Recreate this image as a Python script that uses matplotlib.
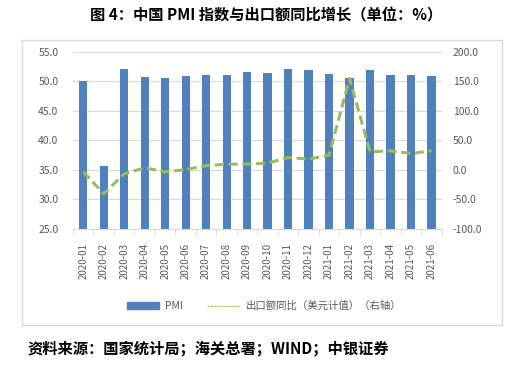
import numpy as np
import matplotlib.pyplot as plt
from matplotlib.patches import Rectangle
from matplotlib.lines import Line2D

plt.rcParams['font.family'] = ['Noto Sans CJK SC', 'DejaVu Sans']

months = ["2020-01", "2020-02", "2020-03", "2020-04", "2020-05", "2020-06",
          "2020-07", "2020-08", "2020-09", "2020-10", "2020-11", "2020-12",
          "2021-01", "2021-02", "2021-03", "2021-04", "2021-05", "2021-06"]
pmi = [50.0, 35.7, 52.0, 50.8, 50.6, 50.9, 51.1, 51.0, 51.5, 51.4, 52.1, 51.9,
       51.3, 50.6, 51.9, 51.1, 51.0, 50.9]
export_yoy = [-3.0, -40.5, -6.6, 3.5, -3.3, 0.5, 7.2, 9.5, 9.9, 11.4, 21.1, 18.1,
              24.9, 154.9, 30.6, 32.3, 27.9, 32.2]

bar_color = "#4F81BD"
line_color = "#9BBB59"
text_color = "#595959"
grid_color = "#D9D9D9"

fig = plt.figure(figsize=(5.24, 3.88), dpi=100)

# chart frame
fig.patches.append(Rectangle((22 / 524, 1 - 325 / 388), 480 / 524, 285 / 388,
                             transform=fig.transFigure, fill=False,
                             edgecolor=grid_color, linewidth=1))

ax = fig.add_axes([73 / 524, 1 - 229 / 388, 368.7 / 524, 177.3 / 388])
x = np.arange(len(months))
ax.bar(x, pmi, width=0.4, color=bar_color, zorder=2)
ax.set_ylim(25, 55)
ax.set_yticks(np.arange(25, 56, 5))
ax.set_yticklabels([f"{v:.1f}" for v in np.arange(25, 56, 5)])
ax.set_xlim(-0.5, len(months) - 0.5)
ax.set_xticks(x)
ax.set_xticklabels(months, rotation=90)
ax.set_xticks(np.arange(-0.5, len(months), 1), minor=True)
ax.tick_params(axis='x', which='major', length=0, pad=10, labelsize=7, labelcolor=text_color)
ax.tick_params(axis='x', which='minor', length=4, color=grid_color, direction='out')
ax.tick_params(axis='y', length=0, labelsize=7.5, labelcolor=text_color, pad=10.5)
ax.grid(axis='y', color=grid_color, linewidth=0.8, zorder=0)
for s in ["left", "right", "top"]:
    ax.spines[s].set_visible(False)
ax.spines["bottom"].set_color(grid_color)

ax2 = ax.twinx()
ax2.plot(x, export_yoy, color=line_color, linewidth=2.2, linestyle=(0, (3, 1.5)), zorder=3)
ax2.set_ylim(-100, 200)
ax2.set_yticks(np.arange(-100, 201, 50))
ax2.set_yticklabels([f"{v:.1f}" for v in np.arange(-100, 201, 50)])
ax2.tick_params(axis='y', length=0, labelsize=7.5, labelcolor=text_color, pad=8)
for s in ["left", "right", "top", "bottom"]:
    ax2.spines[s].set_visible(False)

handles = [Rectangle((0, 0), 1, 1, color=bar_color),
           Line2D([0], [0], color=line_color, linewidth=0.8, linestyle=(0, (2, 1)))]
fig.legend(handles, ["PMI", "出口额同比（美元计值）（右轴）"], loc='center',
           bbox_to_anchor=(264 / 524, 1 - 306 / 388), ncol=2, frameon=False,
           fontsize=7.5, labelcolor=text_color, handlelength=3.1, handleheight=0.6,
           columnspacing=2.3, handletextpad=0.6)

fig.text(266 / 524, 1 - 15 / 388, "图 4：中国 PMI 指数与出口额同比增长（单位：%）",
         ha='center', va='center', fontsize=11, fontweight='bold')
fig.text(28 / 524, 1 - 349 / 388, "资料来源：国家统计局；海关总署；WIND；中银证券",
         ha='left', va='center', fontsize=11, fontweight='bold')

fig.savefig("out.png", dpi=100)
